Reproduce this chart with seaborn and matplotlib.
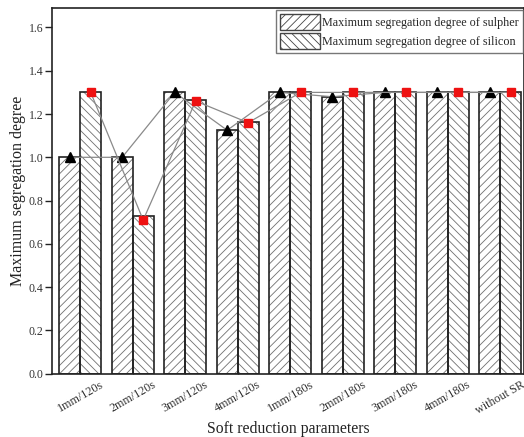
import matplotlib
matplotlib.use('Agg')
import matplotlib.pyplot as plt
import seaborn as sns
import pandas as pd
from matplotlib.patches import Rectangle, Patch

categories = ['1mm/120s', '2mm/120s', '3mm/120s', '4mm/120s', '1mm/180s',
              '2mm/180s', '3mm/180s', '4mm/180s', 'without SR']
sulphur = [1.0, 1.0, 1.3, 1.125, 1.3, 1.28, 1.3, 1.3, 1.3]
silicon = [1.3, 0.73, 1.265, 1.165, 1.3, 1.3, 1.3, 1.3, 1.3]
sulphur_pts = [1.0, 1.0, 1.3, 1.125, 1.3, 1.28, 1.3, 1.3, 1.3]
silicon_pts = [1.3, 0.71, 1.26, 1.16, 1.3, 1.3, 1.3, 1.3, 1.3]
series = ['Maximum segregation degree of sulpher',
          'Maximum segregation degree of silicon']
yticks = [0.0, 0.2, 0.4, 0.6, 0.8, 1.0, 1.2, 1.4, 1.6]

sns.set_style('ticks')
plt.rcParams['font.family'] = ['Liberation Serif', 'DejaVu Serif']
plt.rcParams['hatch.color'] = '#707070'
plt.rcParams['hatch.linewidth'] = 0.6

df = pd.DataFrame({
    'Parameter': categories * 2,
    'Series': [series[0]] * len(categories) + [series[1]] * len(categories),
    'Value': sulphur + silicon,
})

fig = plt.figure(figsize=(5.24, 4.37), dpi=100)
ax = fig.add_axes([52 / 524, 1 - 373.7 / 437, (524 - 52) / 524, (373.7 - 8) / 437])

sns.barplot(data=df, x='Parameter', y='Value', hue='Series', hue_order=series,
            palette=['white', 'white'], saturation=1, width=0.8,
            linewidth=0, legend=False, ax=ax, errorbar=None)

hatches = ['////', '\\\\\\\\']
n = len(categories)
patches = list(ax.patches)
for i, p in enumerate(patches):
    h = hatches[0] if i < n else hatches[1]
    p.set_hatch(h)
    p.set_edgecolor('#707070')
    p.set_linewidth(0)
    ax.add_patch(Rectangle(p.get_xy(), p.get_width(), p.get_height(),
                           fill=False, edgecolor='#222222', linewidth=1.2, zorder=3))

xs_s = [p.get_x() + p.get_width() / 2 for p in patches[:n]]
xs_i = [p.get_x() + p.get_width() / 2 for p in patches[n:]]
ax.plot(xs_s, sulphur_pts, color='#8a8a8a', lw=0.9, marker='^', ms=7.5,
        mfc='black', mec='black', zorder=5)
ax.plot(xs_i, silicon_pts, color='#8a8a8a', lw=0.9, marker='s', ms=6,
        mfc='#ee1111', mec='#ee1111', zorder=5)

ax.set_xlim(-0.537, 8.454)
ax.set_ylim(0, 1.69)
ax.set_yticks(yticks)
ax.set_yticklabels([f'{v:.1f}' for v in yticks], fontsize=8.5, color='#333333')
ax.set_xticks(range(n))
ax.set_xticklabels(categories, rotation=30, ha='center', fontsize=8.7, color='#333333')
ax.tick_params(axis='x', direction='in', length=4, width=1, color='#222222')
ax.tick_params(axis='y', direction='out', length=5, width=1, color='#222222', pad=1)
for s in ax.spines.values():
    s.set_visible(True)
    s.set_linewidth(1.2)
    s.set_color('#222222')

ax.set_xlabel('Soft reduction parameters', fontsize=11.3, color='#222222', labelpad=3.5)
ax.set_ylabel('Maximum segregation degree', fontsize=11.5, color='#222222', labelpad=2)

handles = [Patch(facecolor='white', edgecolor='#444444', hatch=hatches[0], lw=1),
           Patch(facecolor='white', edgecolor='#444444', hatch=hatches[1], lw=1)]
leg = ax.legend(handles, series, loc='upper right', bbox_to_anchor=(0.997, 0.9945),
                fontsize=8.7, frameon=True, fancybox=False, edgecolor='#555555',
                handlelength=3.3, handleheight=1.75, handletextpad=0.2,
                labelspacing=0.2, borderpad=0.3, borderaxespad=0)
leg.get_frame().set_linewidth(1)

fig.savefig('out.png', dpi=100)
